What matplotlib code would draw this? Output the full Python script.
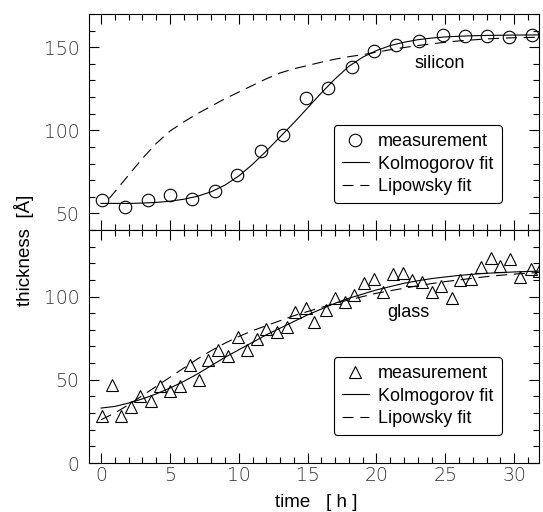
import matplotlib
matplotlib.use("Agg")
import matplotlib.pyplot as plt
from matplotlib.ticker import MultipleLocator

plt.rcParams['font.family'] = ['Liberation Sans', 'DejaVu Sans']

# silicon: Messpunkte
si_t = [0.1, 1.75, 3.4, 5.0, 6.6, 8.3, 9.9, 11.6, 13.2, 14.9, 16.5, 18.2,
        19.8, 21.4, 23.1, 24.8, 26.4, 28.0, 29.6, 31.3]
si_d = [57.8, 53.6, 57.8, 60.8, 58.4, 63.2, 72.8, 87.8, 97.4, 119.6, 125.6,
        138.0, 147.8, 151.4, 153.8, 157.4, 156.8, 156.8, 156.2, 157.4]

# silicon: fits
si_kol_t = [0, 1, 2, 3, 4, 5, 6, 7, 8, 9, 10, 11, 12, 13, 14, 15, 16, 17, 18,
            19, 20, 21, 22, 23, 24, 25, 26, 27, 28, 30, 31.8]
si_kol_d = [56, 56, 56, 56.2, 56.6, 57.3, 58.5, 60.3, 63, 67, 72.5, 79.5, 87.5,
            96, 104.5, 113.5, 122.5, 131, 138.5, 144, 148, 151, 153, 154.5,
            155.5, 156.2, 156.6, 156.9, 157.1, 157.3, 157.4]
si_lip_t = [0.6, 1, 2, 3, 4, 5, 6, 7, 8, 9, 10, 11, 12, 13, 14, 15, 16, 17, 18,
            19, 20, 21, 22, 23, 24, 25, 26, 27, 28, 29, 30, 31.8]
si_lip_d = [59, 63, 73, 83, 92, 99.5, 105, 110, 114.5, 119, 123, 127, 131,
            134.5, 137, 139, 141, 142.8, 144.3, 145.5, 147, 148.5, 149.8, 151,
            152, 153, 153.8, 154.4, 155, 155.4, 155.7, 156]

# glass: Messpunkte
gl_t = [0.05, 0.78, 1.45, 2.2, 2.83, 3.6, 4.28, 5.0, 5.7, 6.46, 7.1, 7.8, 8.5,
        9.2, 9.96, 10.6, 11.3, 12.0, 12.75, 13.5, 14.1, 14.9, 15.5, 16.3, 17.0,
        17.7, 18.4, 19.1, 19.85, 20.5, 21.2, 21.9, 22.6, 23.3, 24.0, 24.7,
        25.5, 26.1, 26.9, 27.6, 28.3, 29.0, 29.7, 30.4, 31.2, 31.8]
gl_d = [28.3, 47, 28.5, 33.7, 40.5, 37.5, 46.4, 43, 46, 59, 50, 62, 68, 64.5,
        76, 68, 74.7, 80.7, 79, 81.7, 90.5, 93, 84.5, 92, 99, 96.5, 101, 108,
        110.7, 102.6, 113.7, 114.3, 110.2, 108.6, 103, 106.6, 99, 110.2, 110.7,
        117.9, 123.3, 118.3, 122.3, 111.6, 116.7, 115.2]

gl_kol_t = [0, 1, 2, 3, 4, 5, 6, 7, 8, 9, 10, 11, 12, 13, 14, 15, 16, 17, 18,
            19, 20, 21, 22, 23, 24, 25, 26, 27, 28, 30, 31.8]
gl_kol_d = [33, 34, 36, 38.5, 41.5, 45, 49, 53.5, 58.5, 63.5, 68, 72.5, 77, 81,
            85, 89, 92.5, 96, 99, 101.5, 104, 106, 108, 109.5, 110.8, 111.8,
            112.7, 113.4, 114, 114.8, 115.3]
gl_lip_t = [0, 1, 2, 3, 4, 5, 6, 7, 8, 9, 10, 11, 12, 13, 14, 15, 16, 17, 18,
            19, 20, 21, 22, 23, 24, 25, 26, 27, 28, 29, 30, 31.8]
gl_lip_d = [26, 30, 35, 40.5, 46, 51.5, 57, 62.5, 67.5, 72, 76, 79.5, 82.5,
            85.5, 88.5, 91, 93.5, 96, 98, 100, 102, 103.5, 105, 106.5, 107.8,
            109, 110, 111, 112, 112.8, 113.5, 114.5]

fig = plt.figure(figsize=(5.43, 5.12), dpi=100)
ax1 = fig.add_axes([0.164, 0.5508, 0.8286, 0.4219])
ax2 = fig.add_axes([0.164, 0.0957, 0.8286, 0.4551], sharex=ax1)

lw = 0.8
ax1.plot(si_t, si_d, 'o', ms=9, mfc='none', mec='black', mew=0.8, label='measurement')
ax1.plot(si_kol_t, si_kol_d, '-', color='black', lw=lw, label='Kolmogorov fit')
ax1.plot(si_lip_t, si_lip_d, '--', color='black', lw=lw, dashes=(10, 6), label='Lipowsky fit')

ax2.plot(gl_t, gl_d, '^', ms=9, mfc='none', mec='black', mew=0.8, label='measurement')
ax2.plot(gl_kol_t, gl_kol_d, '-', color='black', lw=lw, label='Kolmogorov fit')
ax2.plot(gl_lip_t, gl_lip_d, '--', color='black', lw=lw, dashes=(10, 6), label='Lipowsky fit')

ax1.set_xlim(-0.87, 31.8)
ax1.set_ylim(40, 170)
ax2.set_ylim(0, 140)

for ax in (ax1, ax2):
    ax.xaxis.set_major_locator(MultipleLocator(5))
    ax.xaxis.set_minor_locator(MultipleLocator(1))
    ax.yaxis.set_major_locator(MultipleLocator(50))
    ax.yaxis.set_minor_locator(MultipleLocator(10))
    ax.tick_params(which='both', direction='in', top=True, right=True, width=0.8)
    ax.tick_params(which='major', length=7)
    ax.tick_params(which='minor', length=4)
    ax.tick_params(axis='y', labelsize=13.5, pad=7)
    ax.tick_params(axis='x', labelsize=13.5, pad=2)
    for s in ax.spines.values():
        s.set_linewidth(0.8)
    for lab in ax.get_xticklabels() + ax.get_yticklabels():
        lab.set_color('#333333')
        lab.set_family(['DejaVu Sans'])
        lab.set_fontweight('light')

ax1.tick_params(axis='x', labelbottom=False)

ax1.text(0.78, 0.769, 'silicon', transform=ax1.transAxes, fontsize=13,
         ha='center', va='center')
ax2.text(0.709, 0.644, 'glass', transform=ax2.transAxes, fontsize=13,
         ha='center', va='center')

leg_kw = dict(loc='upper left', fontsize=13, frameon=True, fancybox=True,
              edgecolor='black', framealpha=1, handlelength=1.5,
              handletextpad=0.5, labelspacing=0.3, borderpad=0.45,
              borderaxespad=0)
l1 = ax1.legend(bbox_to_anchor=(0.544, 0.486), **leg_kw)
l2 = ax2.legend(bbox_to_anchor=(0.544, 0.455), **leg_kw)
for l in (l1, l2):
    l.get_frame().set_linewidth(0.8)

fig.text(0.044, 0.512, 'thickness  [Å]', rotation=90, fontsize=13.5,
         ha='center', va='center')
fig.text(0.582, 0.018, 'time   [ h ]', fontsize=13.5, ha='center', va='center')

fig.savefig('out.png', dpi=100)
